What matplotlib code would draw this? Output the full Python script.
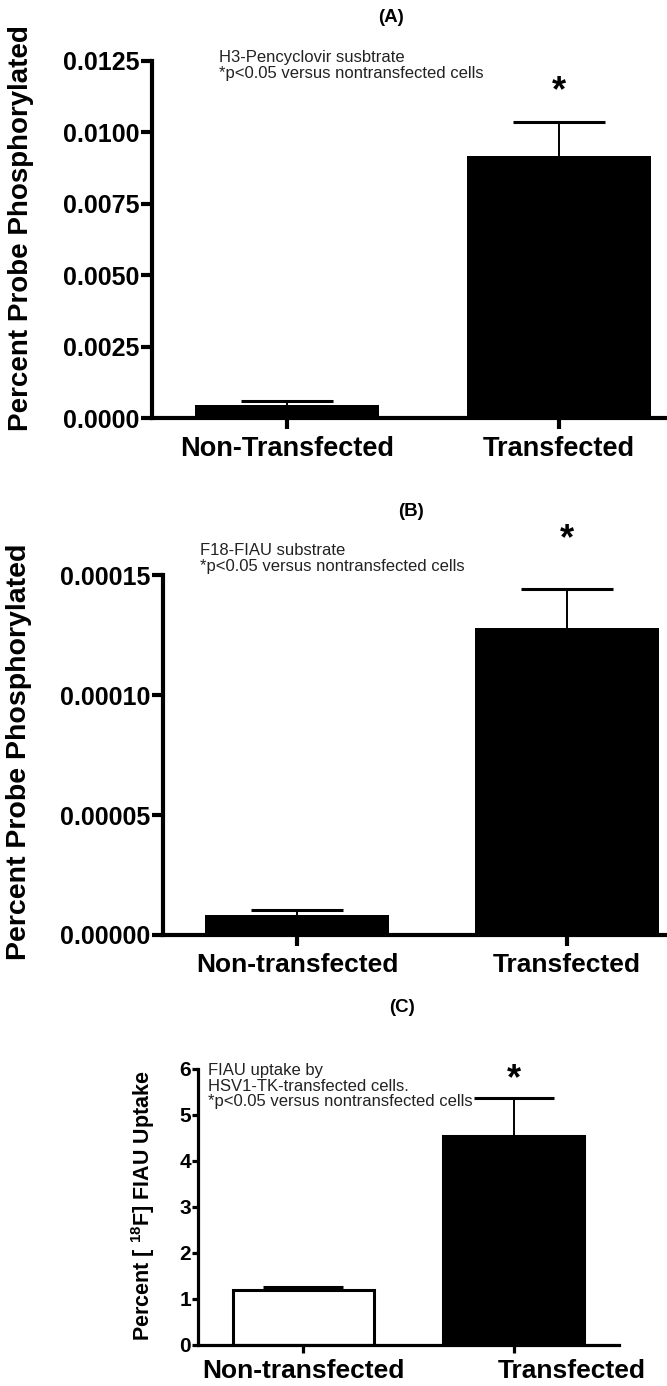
import matplotlib
matplotlib.use("Agg")
import matplotlib.pyplot as plt
from matplotlib.transforms import ScaledTranslation

plt.rcParams['font.family'] = ['Liberation Sans', 'DejaVu Sans']
plt.rcParams['mathtext.fontset'] = 'custom'
plt.rcParams['mathtext.rm'] = 'Liberation Sans:bold'
plt.rcParams['mathtext.default'] = 'rm'

# data
groups_a = ['Non-Transfected', 'Transfected']
groups_bc = ['Non-transfected', 'Transfected']

pcv_mean = [0.00046, 0.00917]
pcv_sem = [0.00015, 0.00119]
pcv_ticks = [0.0, 0.0025, 0.005, 0.0075, 0.01, 0.0125]
pcv_ticklabels = ['0.0000', '0.0025', '0.0050', '0.0075', '0.0100', '0.0125']

fiau_mean = [0.0000085, 0.000128]
fiau_sem = [0.000002, 0.000016]
fiau_ticks = [0.0, 0.00005, 0.0001, 0.00015]
fiau_ticklabels = ['0.00000', '0.00005', '0.00010', '0.00015']

uptake_mean = [1.20, 4.55]
uptake_sem = [0.07, 0.82]
uptake_ticks = [0, 1, 2, 3, 4, 5, 6]

W, H = 667, 1386
fig = plt.figure(figsize=(W / 100, H / 100), dpi=100)


def px_axes(left, right, top, bottom):
    return fig.add_axes([left / W, 1 - bottom / H, (right - left) / W, (bottom - top) / H])


def style(ax, lw, ticklen, tickfs):
    for s in ['top', 'right']:
        ax.spines[s].set_visible(False)
    for s in ['left', 'bottom']:
        ax.spines[s].set_linewidth(lw)
        ax.spines[s].set_capstyle('projecting')
    ax.tick_params(axis='both', width=lw, length=ticklen, direction='out')
    ax.tick_params(axis='y', pad=1, labelsize=tickfs)
    for lab in ax.get_yticklabels():
        lab.set_fontweight('bold')


def draw_bars(ax, means, sems, width, colors, cap, lw):
    # upper error bar only, cap as a fraction of the bar width
    x = list(range(len(means)))
    tops = [m + s for m, s in zip(means, sems)]
    ax.vlines(x, means, tops, color='black', linewidth=1.4, zorder=1)
    ax.hlines(tops, [i - cap for i in x], [i + cap for i in x], color='black',
              linewidth=2.2, zorder=1)
    ax.bar(x, means, width=width, color=colors, edgecolor='black', linewidth=lw, zorder=2)
    return x


def annot(x, y, lines):
    fig.text(x / W, 1 - y / H, '\n'.join(lines), fontsize=12, va='top', ha='left',
             linespacing=1.05, color='#222222')


# ---- (A) pencyclovir
ax = px_axes(152, 667, 61, 418)
x = draw_bars(ax, pcv_mean, pcv_sem, 0.676, ['black', 'black'], 0.17, 0)
ax.set_xlim(-0.496, 1.397)
ax.set_ylim(0, 0.0125)
ax.set_yticks(pcv_ticks)
ax.set_yticklabels(pcv_ticklabels)
ax.set_xticks(x)
ax.set_xticklabels(groups_a, fontsize=19.5, fontweight='bold')
style(ax, 3.0, 8, 18)
ax.tick_params(axis='x', pad=5)
ax.set_ylabel('Percent Probe Phosphorylated', fontsize=20, fontweight='bold')
ax.yaxis.set_label_coords(-0.229, 0.532)
ax.text(x[1], 0.01141, '*', fontsize=26, fontweight='bold', ha='center', va='center')
fig.text(391 / W, 1 - 18 / H, '(A)', fontsize=13.5, fontweight='bold', ha='center', va='center')
annot(219, 50, ['H3-Pencyclovir susbtrate', '*p<0.05 versus nontransfected cells'])

# ---- (B) FIAU phosphorylation
ax = px_axes(163, 667, 575, 935)
x = draw_bars(ax, fiau_mean, fiau_sem, 0.68, ['black', 'black'], 0.17, 0)
ax.set_xlim(-0.496, 1.370)
ax.set_ylim(0, 0.00015)
ax.set_yticks(fiau_ticks)
ax.set_yticklabels(fiau_ticklabels)
ax.set_xticks(x)
ax.set_xticklabels(groups_bc, fontsize=19, fontweight='bold')
style(ax, 3.0, 8, 18)
ax.tick_params(axis='x', pad=5)
ax.set_ylabel('Percent Probe Phosphorylated', fontsize=20.5, fontweight='bold')
ax.yaxis.set_label_coords(-0.26, 0.508)
ax.text(x[1], 0.0001646, '*', fontsize=26, fontweight='bold', ha='center', va='center',
        clip_on=False)
fig.text(411 / W, 1 - 512 / H, '(B)', fontsize=13.5, fontweight='bold', ha='center', va='center')
annot(200, 543, ['F18-FIAU substrate', '*p<0.05 versus nontransfected cells'])

# ---- (C) FIAU uptake
ax = px_axes(198, 619, 1069, 1345)
x = draw_bars(ax, uptake_mean, uptake_sem, 0.67, ['white', 'black'], 0.19, 2.2)
ax.set_xlim(-0.5, 1.5)
ax.set_ylim(0, 6)
ax.set_yticks(uptake_ticks)
ax.set_xticks(x)
ax.set_xticklabels(groups_bc, fontsize=19, fontweight='bold')
style(ax, 2.3, 4.5, 15)
ax.tick_params(axis='x', length=6, pad=4)
ax.tick_params(axis='y', pad=0.5)
lab = ax.get_xticklabels()[1]
lab.set_transform(lab.get_transform() + ScaledTranslation(0.58, 0, fig.dpi_scale_trans))
ax.set_ylabel('Percent [ $^{18}$F] FIAU Uptake', fontsize=15.5, fontweight='bold')
ax.yaxis.set_label_coords(-0.097, 0.504)
ax.text(x[1], 5.76, '*', fontsize=26, fontweight='bold', ha='center', va='center')
fig.text(402 / W, 1 - 1008 / H, '(C)', fontsize=13.5, fontweight='bold', ha='center', va='center')
annot(208, 1063, ['FIAU uptake by', 'HSV1-TK-transfected cells.',
                  '*p<0.05 versus nontransfected cells'])

fig.savefig('out.png', dpi=100, facecolor='white')
